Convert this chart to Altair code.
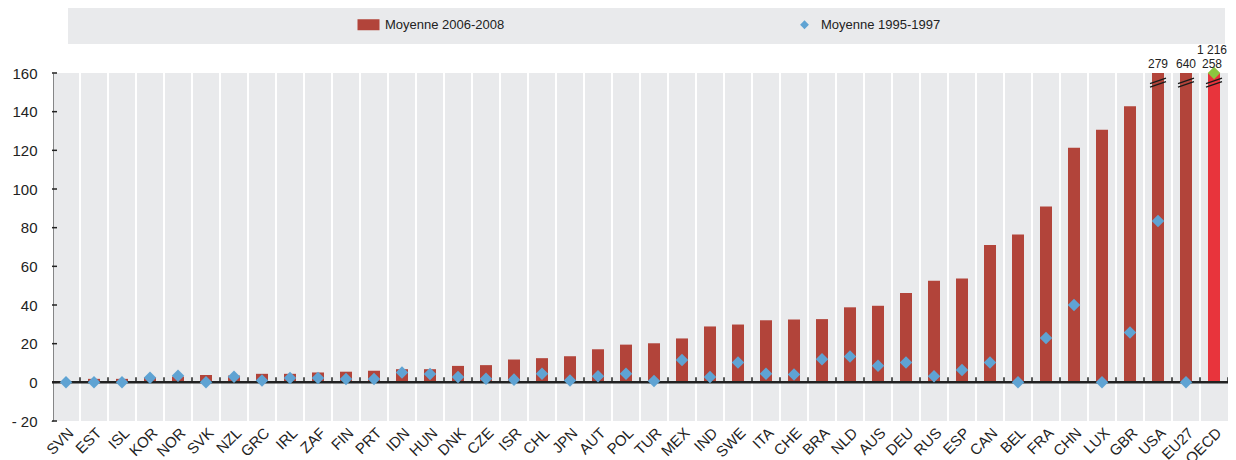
import altair as alt
import pandas as pd

countries = ["SVN", "EST", "ISL", "KOR", "NOR", "SVK", "NZL", "GRC", "IRL", "ZAF",
             "FIN", "PRT", "IDN", "HUN", "DNK", "CZE", "ISR", "CHL", "JPN", "AUT",
             "POL", "TUR", "MEX", "IND", "SWE", "ITA", "CHE", "BRA", "NLD", "AUS",
             "DEU", "RUS", "ESP", "CAN", "BEL", "FRA", "CHN", "LUX", "GBR", "USA",
             "EU27", "OECD"]
avg_2006_2008 = [0, 1.8, 1.8, 2.5, 3.0, 3.8, 3.5, 4.4, 4.4, 5.1,
                 5.5, 6.0, 6.8, 6.8, 8.5, 8.9, 11.8, 12.5, 13.5, 17.1,
                 19.5, 20.2, 22.7, 28.9, 29.9, 32.1, 32.5, 32.7, 38.8, 39.6,
                 46.2, 52.5, 53.7, 71.0, 76.5, 90.9, 121.4, 130.7, 142.8, 279,
                 640, 1216]
avg_1995_1997 = [0, 0, 0, 2.4, 3.4, 0, 2.9, 1.0, 2.2, 2.2,
                 1.7, 1.7, 5.1, 4.3, 2.7, 1.9, 1.4, 4.4, 1.0, 3.1,
                 4.4, 0.7, 11.5, 2.7, 10.3, 4.4, 4.1, 11.9, 13.4, 8.6,
                 10.2, 3.1, 6.4, 10.2, 0, 22.9, 40.0, 0, 25.8, 83.4,
                 0, 258]
series_names = ["Moyenne 2006-2008", "Moyenne 1995-1997"]
y_ticks = [-20, 0, 20, 40, 60, 80, 100, 120, 140, 160]
y_max = 160

FONT = "Liberation Sans, Arial, sans-serif"
BG = "#e9eaec"
BAR = "#b2443a"
DIAMOND = "#5fa3d3"
OECD_BAR = "#e8343c"
OECD_DIAMOND = "#8cc63f"
TXT = "#222222"

RECT_PATH = "M-2,-1H2V1H-2Z"
DIAMOND_PATH = "M0,-0.8L0.8,0L0,0.8L-0.8,0Z"
BREAK_PATH = "M-1,0.13L1,-0.57M-1,0.57L1,-0.13"

df = pd.DataFrame({"country": countries, "v2007": avg_2006_2008, "v1996": avg_1995_1997})

W, H = 1176, 348

legend = alt.Legend(
    title=None, orient="none", legendX=310, legendY=-55, direction="horizontal",
    labelFont=FONT, labelFontSize=13, labelColor=TXT, symbolSize=121,
    symbolStrokeWidth=0, symbolOpacity=1, columnPadding=293, labelOffset=10,
)
color_scale = alt.Scale(domain=series_names, range=[BAR, DIAMOND])
shape_scale = alt.Scale(domain=series_names, range=[RECT_PATH, DIAMOND_PATH])

x_scale = alt.Scale(paddingInner=0, paddingOuter=0)
x_axis = alt.Axis(title=None, labelAngle=-45, labelFont=FONT, labelFontSize=15,
                  labelColor=TXT, domain=False, ticks=False, grid=False,
                  labelPadding=4, labelOverlap=False)
y_scale = alt.Scale(domain=[-20, 160], nice=False, zero=False)
y_axis = alt.Axis(title=None, values=y_ticks, labelFont=FONT, labelFontSize=15,
                  labelColor=TXT, domainColor=TXT, domainWidth=2,
                  ticks=False, labelPadding=15, gridColor="white", gridWidth=2,
                  labelOverlap=False, labelFlush=False,
                  labelExpr="datum.value < 0 ? '- ' + abs(datum.value) : datum.label")


def X(band=0.5):
    return alt.X("country:N", sort=countries, scale=x_scale, axis=x_axis, bandPosition=band)


def Y(field):
    return alt.Y(field, scale=y_scale, axis=y_axis)


def YD(v):
    return alt.YDatum(v, scale=y_scale, axis=y_axis)


base = alt.Chart(df)

legend_box = alt.Chart(pd.DataFrame({"a": [0]})).mark_rect(color=BG).encode(
    x=alt.value(16), x2=alt.value(1173), y=alt.value(-65), y2=alt.value(-29)
)

vgrid = base.mark_rule(color="white", strokeWidth=2).encode(
    x=X(0), y=YD(-20), y2=alt.Y2Datum(160),
)

ytick_rules = alt.Chart(pd.DataFrame({"t": y_ticks})).mark_rule(
    color=TXT, strokeWidth=1.5
).encode(y=Y("t:Q"), x=alt.value(0), x2=alt.value(5))

bars = base.transform_calculate(
    series="'Moyenne 2006-2008'", b=f"min(datum.v2007, {y_max})"
).mark_bar(size=12).encode(
    x=X(),
    y=Y("b:Q"),
    color=alt.condition("datum.country === 'OECD'", alt.value(OECD_BAR),
                        alt.Color("series:N", scale=color_scale, legend=legend)),
)

zero_line = alt.Chart(pd.DataFrame({"z": [0]})).mark_rule(
    color=TXT, strokeWidth=2.5
).encode(y=Y("z:Q"))

zero_ticks = base.transform_filter("datum.country !== 'SVN'").mark_rule(
    color=TXT, strokeWidth=1.5
).encode(x=X(0), y=YD(0), y2=alt.Y2Datum(2.6))

zero_tick_end = base.transform_filter("datum.country === 'OECD'").mark_rule(
    color=TXT, strokeWidth=1.5
).encode(x=X(1), y=YD(0), y2=alt.Y2Datum(2.6))

breaks = base.transform_filter(f"datum.v2007 > {y_max}").mark_point(
    shape=BREAK_PATH, size=256, filled=False, color="#1a1a1a", strokeWidth=1.3, opacity=1
).encode(x=X(), y=YD(155))

points = base.transform_calculate(
    series="'Moyenne 1995-1997'", d=f"min(datum.v1996, {y_max})"
).mark_point(filled=True, size=245, opacity=1, strokeWidth=0).encode(
    x=X(),
    y=Y("d:Q"),
    color=alt.condition("datum.country === 'OECD'", alt.value(OECD_DIAMOND),
                        alt.Color("series:N", scale=color_scale, legend=legend)),
    shape=alt.Shape("series:N", scale=shape_scale, legend=legend),
)

lab_common = dict(font=FONT, fontSize=12, color=TXT, baseline="bottom")
bar_labels = base.transform_filter(
    f"datum.v2007 > {y_max} && datum.v1996 <= {y_max}"
).transform_calculate(
    txt="replace(format(datum.v2007, ','), ',', ' ')"
).mark_text(dy=-2, **lab_common).encode(x=X(), y=YD(y_max), text="txt:N")

bar_labels_high = base.transform_filter(
    f"datum.v2007 > {y_max} && datum.v1996 > {y_max}"
).transform_calculate(
    txt="replace(format(datum.v2007, ','), ',', ' ')"
).mark_text(dy=-16, dx=13, align="right", **lab_common).encode(
    x=X(), y=YD(y_max), text="txt:N")

diamond_labels = base.transform_filter(
    f"datum.v1996 > {y_max}"
).transform_calculate(
    txt="replace(format(datum.v1996, ','), ',', ' ')"
).mark_text(dy=-2, dx=-2, **lab_common).encode(x=X(), y=YD(y_max), text="txt:N")

chart = alt.layer(
    legend_box, vgrid, bars, zero_line, zero_ticks, zero_tick_end, ytick_rules,
    breaks, points, bar_labels, bar_labels_high, diamond_labels
).properties(
    width=W, height=H,
    autosize=alt.AutoSizeParams(type="none"),
    padding={"left": 44, "top": 65, "right": 0, "bottom": 39},
).configure_view(
    fill=BG, stroke=None
).configure_axis(labelFont=FONT)

chart.save("out.html", embed_options={"renderer": "svg", "actions": False})
